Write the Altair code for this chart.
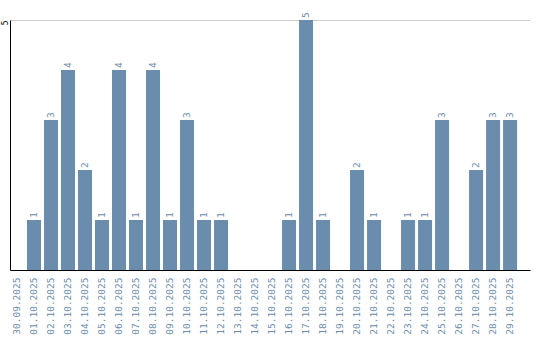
import altair as alt
import pandas as pd

dates = ["30.09.2025", "01.10.2025", "02.10.2025", "03.10.2025", "04.10.2025",
         "05.10.2025", "06.10.2025", "07.10.2025", "08.10.2025", "09.10.2025",
         "10.10.2025", "11.10.2025", "12.10.2025", "13.10.2025", "14.10.2025",
         "15.10.2025", "16.10.2025", "17.10.2025", "18.10.2025", "19.10.2025",
         "20.10.2025", "21.10.2025", "22.10.2025", "23.10.2025", "24.10.2025",
         "25.10.2025", "26.10.2025", "27.10.2025", "28.10.2025", "29.10.2025"]
counts = [0, 1, 3, 4, 2, 1, 4, 1, 4, 1, 3, 1, 1, 0, 0, 0, 1, 5, 1, 0,
          2, 1, 0, 1, 1, 3, 0, 2, 3, 3]

df = pd.DataFrame({"date": dates, "count": counts})
df["label"] = df["count"].apply(lambda v: str(v) if v > 0 else "")

BLUE = "#6a8cad"
FONT = "DejaVu Sans Mono"

x = alt.X("date:N", sort=dates, title=None,
          scale=alt.Scale(paddingInner=0.176, paddingOuter=0.38, align=0),
          axis=alt.Axis(labelAngle=-90, labelColor=BLUE, labelFont=FONT,
                        labelFontSize=9.5, ticks=False, domainColor="black",
                        labelPadding=7, grid=False, labelOverlap=False))
y = alt.Y("count:Q", title=None,
          scale=alt.Scale(domain=[0, 5], nice=False),
          axis=alt.Axis(values=[5], ticks=False, domainColor="black",
                        labelAngle=-90, labelFont=FONT, labelFontSize=8,
                        labelColor="black", labelPadding=1, gridColor="#cccccc",
                        labelAlign="right", labelBaseline="bottom"))

base = alt.Chart(df)
bars = base.mark_bar(color=BLUE).encode(x=x, y=y)
texts = base.mark_text(angle=270, align="left", baseline="middle", dx=2,
                       color=BLUE, font=FONT, fontSize=9.5).encode(
    x=alt.X("date:N", sort=dates), y="count:Q", text="label:N")

chart = (bars + texts).properties(
    width=520, height=250,
    autosize=alt.AutoSizeParams(type="none"),
    padding={"left": 10, "top": 20, "right": 10, "bottom": 70},
    background="white",
).configure_view(stroke=None)

chart.save("out.html", embed_options={"renderer": "svg", "actions": False})
